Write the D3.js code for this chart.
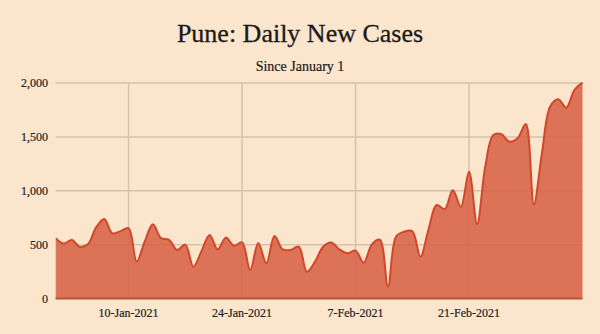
<!DOCTYPE html>
<html><head><meta charset="utf-8">
<script src="https://cdn.jsdelivr.net/npm/d3@7"></script>
<style>
html,body{margin:0;padding:0;background:#fce5cd;}
svg{display:block;}
</style></head>
<body>
<svg id="chart" width="600" height="334"></svg>
<script>
const startDate = "2021-01-01";
const cases = [560,510,543,478,505,660,738,605,625,652,343,530,688,560,545,450,500,295,440,590,455,565,490,520,265,515,327,580,456,450,481,249,342,481,520,456,420,444,332,500,545,110,574,620,625,388,640,868,828,1005,852,1177,691,1223,1517,1524,1455,1487,1620,874,1350,1780,1849,1771,1935,2003];
const yTicks = [0,500,1000,1500,2000];
const xTickLabels = ["10-Jan-2021","24-Jan-2021","7-Feb-2021","21-Feb-2021"];
const xTickDates = ["2021-01-10","2021-01-24","2021-02-07","2021-02-21"];
const title = "Pune: Daily New Cases";
const subtitle = "Since January 1";

const parse = d3.utcParse("%Y-%m-%d");
const t0 = parse(startDate);
const data = cases.map((v,i)=>({date:d3.utcDay.offset(t0,i), v}));

const svg = d3.select("#chart");
const x = d3.scaleUtc().domain([data[0].date, data[data.length-1].date]).range([55.6, 582.5]);
const y = d3.scaleLinear().domain([0,2000]).range([298.5, 83]);

const serif = "'Liberation Serif', serif";

svg.append("text").attr("x",300).attr("y",42).attr("text-anchor","middle")
  .attr("font-family",serif).attr("font-size",26).attr("fill","#1a1a1a")
  .attr("stroke","#1a1a1a").attr("stroke-width",0.3).text(title);
svg.append("text").attr("x",300).attr("y",71).attr("text-anchor","middle")
  .attr("font-family",serif).attr("font-size",14).attr("fill","#1a1a1a")
  .attr("stroke","#1a1a1a").attr("stroke-width",0.2).text(subtitle);

// grid
const g = svg.append("g");
g.selectAll("line.h").data(yTicks.filter(d=>d>0)).join("line")
  .attr("x1",x.range()[0]).attr("x2",x.range()[1])
  .attr("y1",d=>y(d)).attr("y2",d=>y(d))
  .attr("stroke","#d6c2ab").attr("stroke-width",1.5);
g.selectAll("line.v").data(xTickDates).join("line")
  .attr("x1",d=>x(parse(d))).attr("x2",d=>x(parse(d)))
  .attr("y1",y(0)).attr("y2",y(2000))
  .attr("stroke","#d6c2ab").attr("stroke-width",1.5);

// area
const curve = d3.curveCatmullRom.alpha(0.5);
const area = d3.area().x(d=>x(d.date)).y0(y(0)).y1(d=>y(d.v)).curve(curve);
const line = d3.line().x(d=>x(d.date)).y(d=>y(d.v)).curve(curve);
svg.append("path").datum(data).attr("d",area).attr("fill","#d8664a").attr("fill-opacity",0.9);
svg.append("path").datum(data).attr("d",line).attr("fill","none").attr("stroke","#d2462a").attr("stroke-width",2);

// left edge line
svg.append("line").attr("x1",x.range()[0]).attr("x2",x.range()[0]).attr("y1",y(0)).attr("y2",y(cases[0]))
  .attr("stroke","#e9c9b3").attr("stroke-width",1);
// baseline
svg.append("line").attr("x1",x.range()[0]).attr("x2",x.range()[1]).attr("y1",y(0)).attr("y2",y(0))
  .attr("stroke","#b5543a").attr("stroke-width",2);

// y labels
svg.selectAll("text.yl").data(yTicks).join("text")
  .attr("x",48).attr("y",d=>y(d)).attr("dy","0.35em").attr("text-anchor","end")
  .attr("font-family",serif).attr("font-size",12).attr("fill","#222")
  .attr("stroke","#222").attr("stroke-width",0.2)
  .text(d=>d3.format(",")(d));
// x labels
svg.selectAll("text.xl").data(xTickDates).join("text")
  .attr("x",d=>x(parse(d))).attr("y",317).attr("text-anchor","middle")
  .attr("font-family",serif).attr("font-size",12).attr("fill","#222")
  .attr("stroke","#222").attr("stroke-width",0.2)
  .text((d,i)=>xTickLabels[i]);
</script>
</body></html>
